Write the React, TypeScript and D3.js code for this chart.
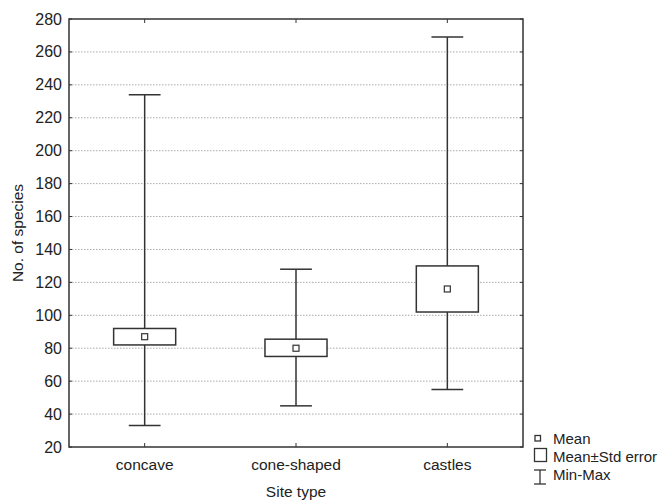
import * as d3 from 'd3';
import { useEffect, useRef } from 'react';

const categories = ['concave', 'cone-shaped', 'castles'];
const means = [87, 80, 116];
const seLow = [82, 75, 102];
const seHigh = [92, 85.5, 130];
const mins = [33, 45, 55];
const maxs = [234, 128, 269];
const yTicks = [20, 40, 60, 80, 100, 120, 140, 160, 180, 200, 220, 240, 260, 280];

const legendItems = ['Mean', 'Mean±Std error', 'Min-Max'];

export default function App() {
  const ref = useRef<SVGSVGElement | null>(null);

  useEffect(() => {
    const width = 662;
    const height = 501;
    const left = 69;
    const right = 523;
    const top = 19;
    const bottom = 447;
    const ink = '#333';
    const font = '"Liberation Sans", Arial, sans-serif';

    const svg = d3.select(ref.current);
    svg.selectAll('*').remove();
    svg.attr('width', width).attr('height', height);

    const x = d3.scaleBand<string>().domain(categories).range([left, right]);
    const y = d3.scaleLinear().domain([20, 280]).range([bottom, top]);
    const cx = (c: string) => (x(c) as number) + x.bandwidth() / 2;
    const boxHalf = x.bandwidth() * 0.205;
    const capHalf = x.bandwidth() * 0.105;

    /* ---------- GRID ---------- */
    svg
      .selectAll('.grid')
      .data(yTicks.filter(t => t > 20 && t < 280))
      .enter()
      .append('line')
      .attr('x1', left)
      .attr('x2', right)
      .attr('y1', d => y(d))
      .attr('y2', d => y(d))
      .attr('stroke', '#aaa')
      .attr('stroke-width', 1)
      .attr('stroke-dasharray', '1.5,1.5');

    /* ---------- FRAME + TICKS ---------- */
    svg
      .append('rect')
      .attr('x', left)
      .attr('y', top)
      .attr('width', right - left)
      .attr('height', bottom - top)
      .attr('fill', 'none')
      .attr('stroke', ink)
      .attr('stroke-width', 1.5);

    yTicks.forEach(t => {
      svg.append('line').attr('x1', left).attr('x2', left + 3).attr('y1', y(t)).attr('y2', y(t)).attr('stroke', ink);
      svg.append('line').attr('x1', right - 3).attr('x2', right).attr('y1', y(t)).attr('y2', y(t)).attr('stroke', ink);
    });
    categories.forEach(c => {
      svg.append('line').attr('x1', cx(c)).attr('x2', cx(c)).attr('y1', bottom).attr('y2', bottom - 4).attr('stroke', ink);
      svg.append('line').attr('x1', cx(c)).attr('x2', cx(c)).attr('y1', top).attr('y2', top + 4).attr('stroke', ink);
    });

    svg
      .selectAll('.ytick')
      .data(yTicks)
      .enter()
      .append('text')
      .attr('x', left - 7)
      .attr('y', d => y(d) + 5.5)
      .attr('text-anchor', 'end')
      .attr('fill', '#222')
      .style('font-family', font)
      .style('font-size', '16px')
      .text(d => d);

    svg
      .selectAll('.xtick')
      .data(categories)
      .enter()
      .append('text')
      .attr('x', d => cx(d))
      .attr('y', 470)
      .attr('text-anchor', 'middle')
      .attr('fill', '#222')
      .style('font-family', font)
      .style('font-size', '15.5px')
      .text(d => d);

    svg
      .append('text')
      .attr('x', (left + right) / 2)
      .attr('y', 497)
      .attr('text-anchor', 'middle')
      .attr('fill', '#222')
      .style('font-family', font)
      .style('font-size', '15.5px')
      .text('Site type');

    svg
      .append('text')
      .attr('transform', `translate(23,${(top + bottom) / 2}) rotate(-90)`)
      .attr('text-anchor', 'middle')
      .attr('fill', '#222')
      .style('font-family', font)
      .style('font-size', '15.5px')
      .text('No. of species');

    /* ---------- BOXES ---------- */
    categories.forEach((c, i) => {
      const xc = cx(c);
      const g = svg.append('g').attr('stroke', ink).attr('stroke-width', 1.5).attr('fill', 'none');
      g.append('line').attr('x1', xc).attr('x2', xc).attr('y1', y(maxs[i])).attr('y2', y(seHigh[i]));
      g.append('line').attr('x1', xc).attr('x2', xc).attr('y1', y(seLow[i])).attr('y2', y(mins[i]));
      g.append('line').attr('x1', xc - capHalf).attr('x2', xc + capHalf).attr('y1', y(maxs[i])).attr('y2', y(maxs[i]));
      g.append('line').attr('x1', xc - capHalf).attr('x2', xc + capHalf).attr('y1', y(mins[i])).attr('y2', y(mins[i]));
      g.append('rect')
        .attr('x', xc - boxHalf)
        .attr('y', y(seHigh[i]))
        .attr('width', boxHalf * 2)
        .attr('height', y(seLow[i]) - y(seHigh[i]))
        .attr('fill', '#fff');
      g.append('rect')
        .attr('x', xc - 3)
        .attr('y', y(means[i]) - 3)
        .attr('width', 6)
        .attr('height', 6)
        .attr('stroke-width', 1.2)
        .attr('fill', '#fff');
    });

    /* ---------- LEGEND ---------- */
    const lg = svg.append('g').attr('stroke', ink).attr('fill', 'none').attr('stroke-width', 1.3);
    lg.append('rect').attr('x', 535).attr('y', 435.5).attr('width', 5.5).attr('height', 5.5);
    lg.append('rect').attr('x', 534.5).attr('y', 448.5).attr('width', 12).attr('height', 13);
    lg.append('line').attr('x1', 540).attr('x2', 540).attr('y1', 470).attr('y2', 484);
    lg.append('line').attr('x1', 534).attr('x2', 546).attr('y1', 470).attr('y2', 470);
    lg.append('line').attr('x1', 534).attr('x2', 546).attr('y1', 484).attr('y2', 484);

    svg
      .selectAll('.legend-text')
      .data(legendItems)
      .enter()
      .append('text')
      .attr('x', 553)
      .attr('y', (d, i) => 443.5 + i * 18)
      .attr('fill', '#222')
      .style('font-family', font)
      .style('font-size', '15px')
      .text(d => d);
  }, []);

  return (
    <div>
      <svg ref={ref} style={{ position: 'absolute', left: 0, top: 0 }} />
    </div>
  );
}
